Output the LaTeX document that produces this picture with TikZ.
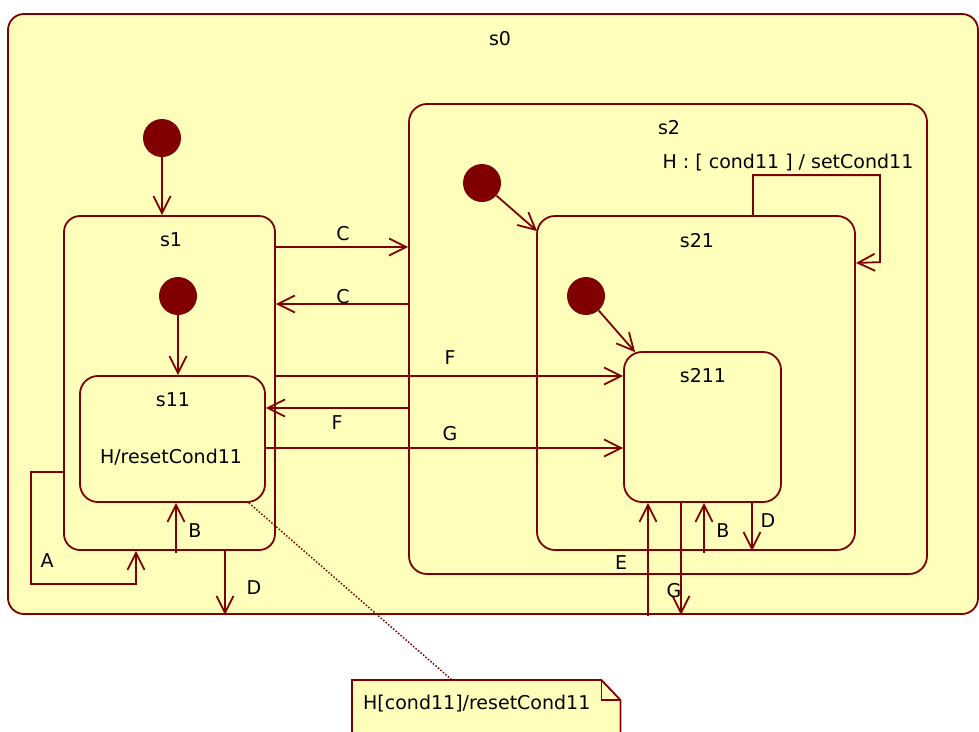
\documentclass[tikz,border=0pt]{standalone}
\usepackage{fontspec}
\setmainfont{DejaVu Sans}
\usetikzlibrary{arrows.meta}
\definecolor{bord}{RGB}{128,0,0}
\definecolor{fillc}{RGB}{255,255,187}
\tikzset{
  state/.style={draw=bord, fill=fillc, line width=1.8pt, inner sep=0pt, rectangle},
  dot/.style={circle, fill=bord, inner sep=0pt, minimum size=38pt},
  lbl/.style={font=\fontsize{19}{23}\selectfont, inner sep=0pt, text height=14pt, text depth=0pt},
  tr/.style={draw=bord, line width=1.8pt, -{Straight Barb[length=17pt,width=17pt]}},
  ln/.style={draw=bord, line width=1.8pt},
}
\begin{document}
\begin{tikzpicture}[x=1pt,y=-1pt]
\clip (0,0) rectangle (979,731);
\fill[white] (0,0) rectangle (979,731);
% states
\node[state, rounded corners=16pt, minimum width=970pt, minimum height=600pt] (s0) at (493,314) {};
\node[state, rounded corners=16pt, minimum width=211pt, minimum height=334pt] (s1) at (169.5,383) {};
\node[state, rounded corners=18pt, minimum width=185pt, minimum height=126pt] (s11) at (172.5,439) {};
\node[state, rounded corners=18pt, minimum width=518pt, minimum height=470pt] (s2) at (668,339) {};
\node[state, rounded corners=18pt, minimum width=318pt, minimum height=334pt] (s21) at (696,383) {};
\node[state, rounded corners=18pt, minimum width=157pt, minimum height=150pt] (s211) at (702.5,427) {};
% initial dots
\node[dot] (d0) at (162,138) {};
\node[dot] (d1) at (178,296) {};
\node[dot] (d2) at (482,183) {};
\node[dot] (d21) at (586,296) {};
% state labels
\node[lbl] (l0) at (500,38) {s0};
\node[lbl] (l1) at (171,239) {s1};
\node[lbl] (l11) at (173,399) {s11};
\node[lbl] (l11b) at (171,456) {H/resetCond11};
\node[lbl] (l2) at (669,127) {s2};
\node[lbl] (l2b) at (788,161) {H : [ cond11 ] / setCond11};
\node[lbl] (l21) at (697,240) {s21};
\node[lbl] (l211) at (703,375) {s211};
% initial transitions
\draw[tr] (d0) -- (d0 |- s1.north);
\draw[tr] (d1) -- (d1 |- s11.north);
\draw[tr] (d2) -- ([shift={(1,16)}]s21.north west);
\draw[tr] (d21) -- ([shift={(12,1)}]s211.north west);
% self loop H on s21
\draw[tr] ([xshift=57pt]s21.north) -- ++(0,-40) -- ++(127,0) -- ++(0,87) -- ([yshift=120pt]s21.east);
% transitions
\draw[tr] (s1.east |- 0,247) -- (s2.west |- 0,247);
\draw[tr] (s2.west |- 0,304) -- (s1.east |- 0,304);
\draw[tr] (s1.east |- 0,376) -- (s211.west |- 0,376);
\draw[tr] (s2.west |- 0,408) -- (s11.east |- 0,408);
\draw[tr] (s11.east |- 0,448) -- (s211.west |- 0,448);
\draw[tr] (s1.west |- 0,472) -- ++(-32,0) |- (136,584) -- (s1.south -| 136,0);
\draw[tr] ([yshift=-2pt]s1.south -| 176,0) -- (s11.south -| 176,0);
\draw[tr] (s1.south -| 225,0) -- (s0.south -| 225,0);
\coordinate (eS) at (648,616);
\draw[tr] (eS) -- (s211.south -| eS);
\draw[tr] (s211.south -| 681,0) -- (s0.south -| 681,0);
\draw[tr] ([yshift=-2pt]s21.south -| 704,0) -- (s211.south -| 704,0);
\draw[tr] (s211.south -| 752,0) -- (s21.south -| 752,0);
% transition labels
\node[lbl] (tC1) at (343,233) {C};
\node[lbl] (tC2) at (343,296) {C};
\node[lbl] (tF1) at (450,357) {F};
\node[lbl] (tF2) at (337,422) {F};
\node[lbl] (tG1) at (450,433) {G};
\node[lbl] (tA) at (47,560) {A};
\node[lbl] (tB1) at (195,530) {B};
\node[lbl] (tD1) at (254,587) {D};
\node[lbl] (tE) at (621,562) {E};
\node[lbl] (tG2) at (674,590) {G};
\node[lbl] (tB2) at (723,530) {B};
\node[lbl] (tD2) at (768,520) {D};
% note
\node[inner sep=0pt, minimum width=268pt, minimum height=60pt, anchor=north west] (notebox) at (352,680) {};
\draw[ln, fill=fillc] (notebox.north west) -- ([xshift=-19pt]notebox.north east) -- ([yshift=-20pt]notebox.north east) -- (notebox.south east) -- (notebox.south west) -- cycle;
\draw[ln] ([xshift=-19pt]notebox.north east) |- ([yshift=-20pt]notebox.north east);
\node[lbl, anchor=west] (notetext) at (363,702) {H[cond11]/resetCond11};
\draw[draw=bord, line width=1.5pt, dash pattern=on 1.5pt off 1.8pt] ([xshift=-17pt]s11.south east) -- ([xshift=100pt]notebox.north west);
\end{tikzpicture}
\end{document}
